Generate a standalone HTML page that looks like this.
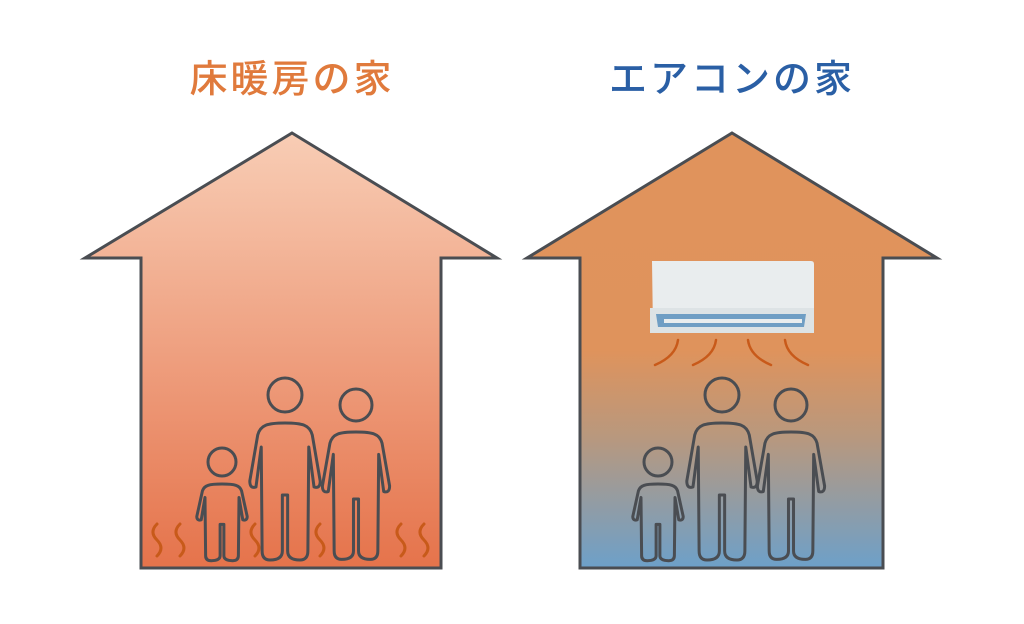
<!DOCTYPE html>
<html><head><meta charset="utf-8"><style>
html,body{margin:0;padding:0;background:#fff;}
svg{display:block;}
text{font-family:"Liberation Sans","Noto Sans CJK JP",sans-serif;font-weight:500;font-size:38px;}
</style></head><body>
<svg width="1024" height="624" viewBox="0 0 1024 624">
<defs>
<linearGradient id="gl" x1="0" y1="133" x2="0" y2="568" gradientUnits="userSpaceOnUse">
<stop offset="0" stop-color="#f8cdb5"/><stop offset="1" stop-color="#e5734b"/></linearGradient>
<linearGradient id="gr" x1="0" y1="133" x2="0" y2="568" gradientUnits="userSpaceOnUse">
<stop offset="0" stop-color="#e0935c"/><stop offset="0.5" stop-color="#df935c"/><stop offset="0.7" stop-color="#b8987e"/><stop offset="1" stop-color="#6da0c9"/></linearGradient>
<path id="p" d="M0,0 C-20,0 -28,2 -31,12 L-40,58 Q-40,66 -33,64 L-27,24 L-26,128 Q-26,137 -17,137 Q-3,137 -3,128 L-3,72 L3,72 L3,128 Q3,137 17,137 Q26,137 26,128 L27,24 L33,64 Q40,66 40,58 L31,12 C28,2 20,0 0,0 Z" fill="none" stroke="#4a4d52" stroke-width="3" vector-effect="non-scaling-stroke" stroke-linejoin="round"/>
<path id="w" d="M0,0 q-8,8 0,16 q8,8 0,16" fill="none" stroke="#c85a1a" stroke-width="3" stroke-linecap="round"/>
</defs>
<text x="292" y="92" text-anchor="middle" fill="#e07a3c" letter-spacing="3">床暖房の家</text>
<text x="732" y="92" text-anchor="middle" fill="#2a5fa5" letter-spacing="3">エアコンの家</text>

<polygon points="292,133 497,258 441,258 441,568 141,568 141,258 85,258" fill="url(#gl)" stroke="#4a4d52" stroke-width="3" stroke-linejoin="miter"/>
<polygon points="732,133 937,258 883,258 883,568 580,568 580,258 527,258" fill="url(#gr)" stroke="#4a4d52" stroke-width="3"/>

<use href="#w" x="157" y="524"/><use href="#w" x="180" y="524"/>
<use href="#w" x="255" y="524"/><use href="#w" x="320" y="524"/>
<use href="#w" x="401" y="524"/><use href="#w" x="424" y="524"/>

<g fill="none" stroke="#4a4d52" stroke-width="3">
<circle cx="285" cy="395" r="17"/><circle cx="356" cy="405" r="16"/><circle cx="222" cy="462" r="14"/>
<circle cx="722" cy="395" r="17"/><circle cx="791" cy="405" r="16"/><circle cx="658" cy="462" r="14"/>
</g>
<use href="#p" transform="translate(285,423) scale(0.88,1)"/>
<use href="#p" transform="translate(356,432) scale(0.84,0.93)"/>
<use href="#p" transform="translate(222,484) scale(0.63,0.56)"/>
<use href="#p" transform="translate(722,423) scale(0.88,1)"/>
<use href="#p" transform="translate(791,432) scale(0.84,0.93)"/>
<use href="#p" transform="translate(658,484) scale(0.63,0.56)"/>

<path d="M652,261 H811 Q814,261 814,264 V330 Q814,333 811,333 H656 Q653,333 653,330 Z" fill="#e9edee"/>
<rect x="650" y="308" width="164" height="25" fill="#dde3e5"/>
<path d="M656,314 H806 L804,327 H658 Z" fill="#6f9ec4"/>
<rect x="664" y="319" width="138" height="4" fill="#e9edee"/>
<g fill="none" stroke="#c85a1a" stroke-width="2.5" stroke-linecap="round">
<path d="M678,340 Q676,356 655,365"/><path d="M716,340 Q714,356 693,365"/>
<path d="M748,340 Q750,356 771,365"/><path d="M785,340 Q787,356 808,365"/>
</g>
</svg>
</body></html>
